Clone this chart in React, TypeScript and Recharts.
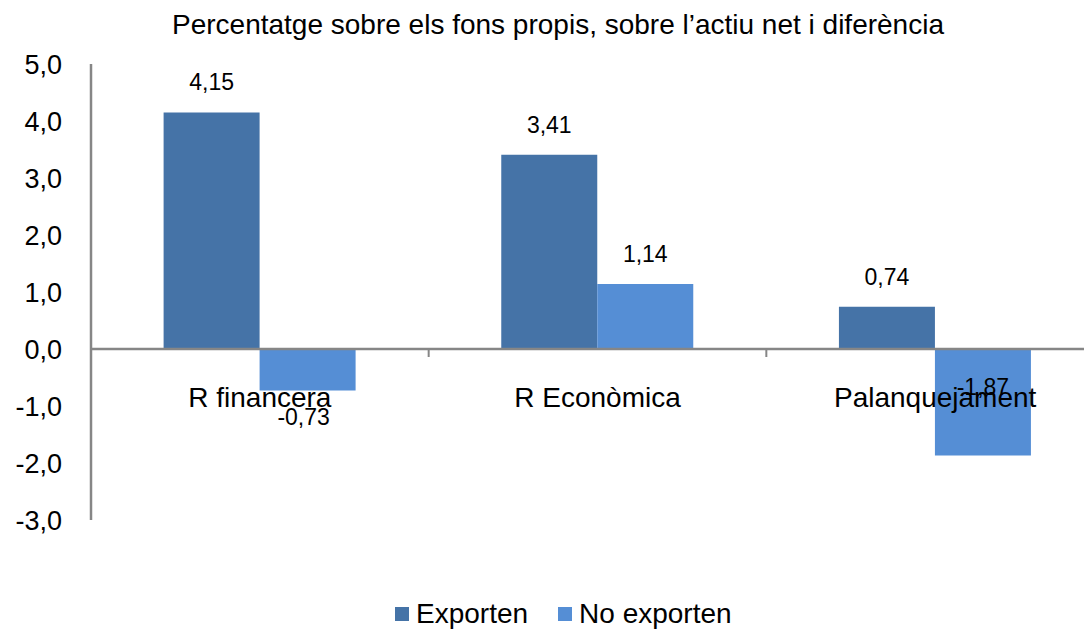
import { Bar, BarChart, LabelList, ReferenceLine, XAxis, YAxis } from "recharts";

const categories = ["R financera", "R Econòmica", "Palanquejament"];
const exporten = [4.15, 3.41, 0.74];
const noExporten = [-0.73, 1.14, -1.87];
const yTicks = [-3, -2, -1, 0, 1, 2, 3, 4, 5];

const TITLE = "Percentatge sobre els fons propis, sobre l\u2019actiu net i diferència";
const FONT = "'Liberation Sans', Arial, sans-serif";
const DARK = "#4573A7";
const LIGHT = "#558ED5";
const AXIS = "#868686";

const W = 1110;
const H = 632;
const TOP = 64;
const BOTTOM = 82;
const X_AXIS_H = 30;
const LEFT = 91;
const RIGHT = 6;
const PLOT_H = H - TOP - BOTTOM - X_AXIS_H;
const PLOT_W = W - LEFT - RIGHT;
const ZERO_Y = TOP + (PLOT_H * 5) / 8;
const BAND = PLOT_W / categories.length;

const data = categories.map((name, i) => ({
  name,
  exporten: exporten[i],
  noExporten: noExporten[i],
}));

const fmt = (v: number, d: number) => v.toFixed(d).replace(".", ",");

// category names sit just under the zero line, plus the small boundary ticks
function CategoryTick(props: any) {
  const { x, payload, index } = props;
  return (
    <g>
      <text
        x={x}
        y={ZERO_Y + 48}
        textAnchor="middle"
        dominantBaseline="central"
        fontFamily={FONT}
        fontSize={28}
        fill="#000"
      >
        {payload.value}
      </text>
      {index < categories.length - 1 && (
        <line x1={x + BAND / 2} x2={x + BAND / 2} y1={ZERO_Y} y2={ZERO_Y + 8} stroke={AXIS} strokeWidth={2} />
      )}
    </g>
  );
}

function ValueLabel(props: any) {
  const { x, y, width, height, value, index } = props;
  const v = Number(value);
  const top = Math.min(y, y + height);
  const bottom = Math.max(y, y + height);
  let cy: number;
  if (v >= 0) cy = top - 30;
  else if (index === 2) cy = ZERO_Y + 38; // Excel squeezed this one up
  else cy = bottom + 26;
  return (
    <text
      x={x + width / 2 - (v < 0 && index !== 2 ? 4 : 0)}
      y={cy}
      textAnchor="middle"
      dominantBaseline="central"
      fontFamily={FONT}
      fontSize={23}
      fill="#000"
    >
      {fmt(v, 2)}
    </text>
  );
}

export default function App() {
  return (
    <div
      style={{
        position: "absolute",
        left: 0,
        top: 0,
        width: 1084,
        height: 632,
        overflow: "hidden",
        background: "#fff",
        fontFamily: FONT,
      }}
    >
      <div
        style={{
          position: "absolute",
          left: 0,
          top: 8,
          width: 1116,
          textAlign: "center",
          fontSize: 28,
          lineHeight: "34px",
          color: "#000",
        }}
      >
        {TITLE}
      </div>
      <BarChart
        width={W}
        height={H}
        data={data}
        margin={{ top: TOP, right: RIGHT, left: 0, bottom: BOTTOM }}
        barCategoryGap="21.5%"
        barGap={0}
      >
        <XAxis
          dataKey="name"
          height={X_AXIS_H}
          axisLine={false}
          tickLine={false}
          tick={(p: any) => <CategoryTick {...p} />}
          interval={0}
        />
        <YAxis
          width={LEFT}
          domain={[-3, 5]}
          ticks={yTicks}
          interval={0}
          tickFormatter={(v: number) => fmt(v, 1)}
          tick={{ fill: "#000", fontSize: 27, fontFamily: FONT }}
          tickLine={false}
          tickSize={0}
          tickMargin={29}
          axisLine={{ stroke: AXIS, strokeWidth: 2.5 }}
        />
        <Bar dataKey="exporten" name="Exporten" fill={DARK} isAnimationActive={false}>
          <LabelList dataKey="exporten" content={ValueLabel} />
        </Bar>
        <Bar dataKey="noExporten" name="No exporten" fill={LIGHT} isAnimationActive={false}>
          <LabelList dataKey="noExporten" content={ValueLabel} />
        </Bar>
        <ReferenceLine y={0} stroke={AXIS} strokeWidth={2.5} />
      </BarChart>
      <div
        style={{
          position: "absolute",
          left: 395,
          top: 597,
          display: "flex",
          alignItems: "center",
          fontSize: 28,
          lineHeight: "34px",
          color: "#000",
        }}
      >
        <span style={{ width: 14, height: 14, background: DARK, display: "inline-block", marginRight: 7 }} />
        <span style={{ marginRight: 30 }}>Exporten</span>
        <span style={{ width: 14, height: 14, background: LIGHT, display: "inline-block", marginRight: 7 }} />
        <span>No exporten</span>
      </div>
    </div>
  );
}
